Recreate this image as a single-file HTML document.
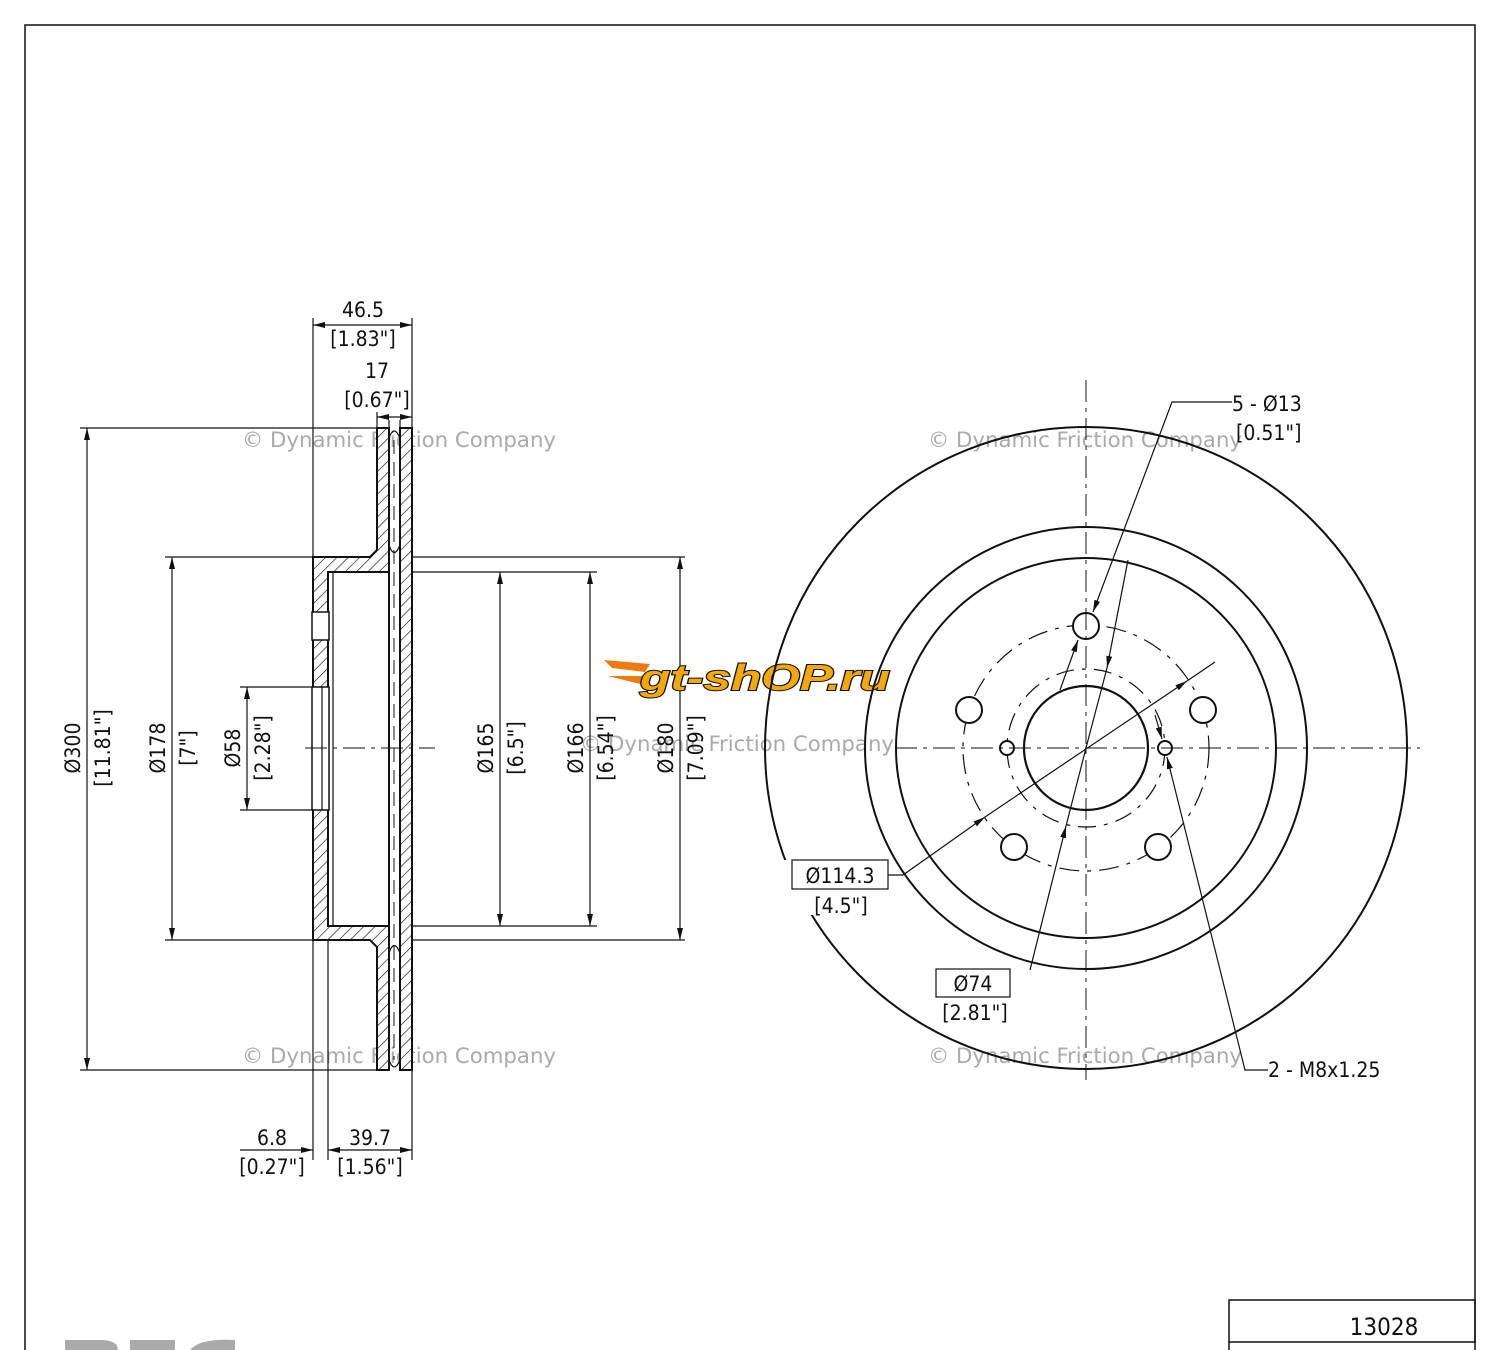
<!DOCTYPE html>
<html><head><meta charset="utf-8"><style>
html,body{margin:0;padding:0;background:#fff;}
svg{display:block;}
text{font-family:"DejaVu Sans Condensed","Liberation Sans Narrow","Liberation Sans",sans-serif;fill:#111;}
.wm{fill:#aaa;font-size:21px;}
</style></head><body>
<svg width="1500" height="1350" viewBox="0 0 1500 1350" xmlns="http://www.w3.org/2000/svg">
<defs>
<pattern id="h" patternUnits="userSpaceOnUse" width="8" height="8" patternTransform="rotate(45)">
<rect width="8" height="8" fill="#fff"/><line x1="0" y1="0" x2="0" y2="8" stroke="#111" stroke-width="1.3"/>
</pattern>
<marker id="a" markerWidth="12" markerHeight="8" refX="12" refY="4" orient="auto" markerUnits="userSpaceOnUse"><path d="M0,1 L12,4 L0,7 Z" fill="#111"/></marker>
<marker id="as" markerWidth="12" markerHeight="8" refX="0" refY="4" orient="auto" markerUnits="userSpaceOnUse"><path d="M12,1 L0,4 L12,7 Z" fill="#111"/></marker>
</defs>
<rect x="25" y="25" width="1450" height="1340" fill="none" stroke="#111" stroke-width="1.5"/>

<!-- watermarks -->
<text class="wm" x="242" y="447" textLength="314" lengthAdjust="spacingAndGlyphs">© Dynamic Friction Company</text>
<text class="wm" x="928" y="447" textLength="314" lengthAdjust="spacingAndGlyphs">© Dynamic Friction Company</text>
<text class="wm" x="580" y="751" textLength="314" lengthAdjust="spacingAndGlyphs">© Dynamic Friction Company</text>
<text class="wm" x="242" y="1063" textLength="314" lengthAdjust="spacingAndGlyphs">© Dynamic Friction Company</text>
<text class="wm" x="928" y="1063" textLength="314" lengthAdjust="spacingAndGlyphs">© Dynamic Friction Company</text>

<g stroke="#111" fill="none" stroke-width="1.2">
<line x1="80" y1="428" x2="377" y2="428"/>
<line x1="80" y1="1070" x2="377" y2="1070"/>
<line x1="165" y1="557" x2="313" y2="557"/>
<line x1="165" y1="940" x2="313" y2="940"/>
<line x1="240" y1="687" x2="313" y2="687"/>
<line x1="240" y1="810" x2="313" y2="810"/>
<line x1="412" y1="572" x2="505" y2="572"/>
<line x1="412" y1="926" x2="505" y2="926"/>
<line x1="505" y1="572" x2="597" y2="572"/>
<line x1="505" y1="926" x2="597" y2="926"/>
<line x1="412" y1="557" x2="685" y2="557"/>
<line x1="412" y1="940" x2="685" y2="940"/>
<line x1="313" y1="318" x2="313" y2="1160"/>
<line x1="328" y1="572" x2="328" y2="1160"/>
<line x1="412" y1="318" x2="412" y2="1160"/>
<line x1="377" y1="412" x2="377" y2="428"/>
<line x1="389" y1="420" x2="389" y2="1070"/>
<line x1="400" y1="420" x2="400" y2="1070"/>
<line x1="333" y1="572" x2="333" y2="926"/>
<line x1="87" y1="428" x2="87" y2="1070" marker-start="url(#as)" marker-end="url(#a)"/>
<line x1="172" y1="557" x2="172" y2="940" marker-start="url(#as)" marker-end="url(#a)"/>
<line x1="247" y1="687" x2="247" y2="810" marker-start="url(#as)" marker-end="url(#a)"/>
<line x1="500" y1="572" x2="500" y2="926" marker-start="url(#as)" marker-end="url(#a)"/>
<line x1="590" y1="572" x2="590" y2="926" marker-start="url(#as)" marker-end="url(#a)"/>
<line x1="680" y1="557" x2="680" y2="940" marker-start="url(#as)" marker-end="url(#a)"/>
<line x1="313" y1="325" x2="412" y2="325" marker-start="url(#as)" marker-end="url(#a)"/>
<line x1="377" y1="417" x2="412" y2="417" marker-start="url(#as)" marker-end="url(#a)"/>
<line x1="240" y1="1150" x2="313" y2="1150" marker-end="url(#a)"/>
<line x1="328" y1="1150" x2="412" y2="1150" marker-start="url(#as)" marker-end="url(#a)"/>
</g>
<path d="M377,428 L389,428 L389,1070 L377,1070 L377,947 L370,940 L313,940 L313,557 L370,557 L377,550 Z M328,572 L389,572 L389,926 L328,926 Z" fill="url(#h)" fill-rule="evenodd" stroke="#111" stroke-width="2"/>
<rect x="400" y="428" width="12" height="642" fill="url(#h)" stroke="#111" stroke-width="2"/>
<rect x="312" y="612" width="17" height="28" fill="#fff" stroke="#111" stroke-width="1.5"/>
<rect x="312" y="687" width="17" height="123" fill="#fff" stroke="#111" stroke-width="1.5"/>
<line x1="322" y1="687" x2="322" y2="810" stroke="#111" stroke-width="1.2"/>
<line x1="394" y1="440" x2="394" y2="1060" stroke="#111" stroke-width="1" stroke-dasharray="14,8"/>
<path d="M389,545 Q394,560 400,545 M389,953 Q394,938 400,953 M389,438 Q394,424 400,438 M389,1060 Q394,1074 400,1060" stroke="#111" fill="none" stroke-width="1.2"/>
<line x1="305" y1="748" x2="435" y2="748" stroke="#111" stroke-width="1" stroke-dasharray="22,6,4,6"/>

<g font-size="21">
<text x="363" y="317" text-anchor="middle">46.5</text>
<text x="363" y="346" text-anchor="middle">[1.83"]</text>
<text x="377" y="378" text-anchor="middle">17</text>
<text x="377" y="407" text-anchor="middle">[0.67"]</text>
<text x="272" y="1145" text-anchor="middle">6.8</text>
<text x="272" y="1174" text-anchor="middle">[0.27"]</text>
<text x="370" y="1145" text-anchor="middle">39.7</text>
<text x="370" y="1174" text-anchor="middle">[1.56"]</text>
<text transform="translate(80,748) rotate(-90)" text-anchor="middle">Ø300</text>
<text transform="translate(110,748) rotate(-90)" text-anchor="middle">[11.81"]</text>
<text transform="translate(165,748) rotate(-90)" text-anchor="middle">Ø178</text>
<text transform="translate(195,748) rotate(-90)" text-anchor="middle">[7"]</text>
<text transform="translate(240,748) rotate(-90)" text-anchor="middle">Ø58</text>
<text transform="translate(270,748) rotate(-90)" text-anchor="middle">[2.28"]</text>
<text transform="translate(493,748) rotate(-90)" text-anchor="middle">Ø165</text>
<text transform="translate(523,748) rotate(-90)" text-anchor="middle">[6.5"]</text>
<text transform="translate(583,748) rotate(-90)" text-anchor="middle">Ø166</text>
<text transform="translate(613,748) rotate(-90)" text-anchor="middle">[6.54"]</text>
<text transform="translate(673,748) rotate(-90)" text-anchor="middle">Ø180</text>
<text transform="translate(703,748) rotate(-90)" text-anchor="middle">[7.09"]</text>
</g>

<g>
<path d="M604,660 L650,664 L645,672 L612,668 Z M608,676 L645,676 L640,684 Z" fill="#f07a10"/>
<text x="640" y="690" font-size="36" font-weight="bold" font-style="italic" style="fill:#f5a800;stroke:#111;stroke-width:2;paint-order:stroke;font-family:'Liberation Sans',sans-serif" textLength="250" lengthAdjust="spacingAndGlyphs">gt-shOP.ru</text>
</g>

<g stroke="#111" fill="none">
<circle cx="1086" cy="748" r="321" stroke-width="2"/>
<circle cx="1086" cy="748" r="221" stroke-width="2"/>
<circle cx="1086" cy="748" r="190" stroke-width="2"/>
<circle cx="1086" cy="748" r="62" stroke-width="2.2"/>
<circle cx="1086" cy="748" r="123" stroke-width="1.2" stroke-dasharray="20,8,4,8"/>
<circle cx="1086" cy="748" r="79" stroke-width="1.2" stroke-dasharray="18,8,4,8"/>
<g stroke-width="2" fill="#fff">
<circle cx="1086" cy="626" r="13"/><circle cx="969" cy="710" r="13"/><circle cx="1203" cy="710" r="13"/>
<circle cx="1014" cy="847" r="13"/><circle cx="1158" cy="847" r="13"/>
<circle cx="1007" cy="748" r="7"/><circle cx="1165" cy="748" r="7"/>
</g>
<line x1="1086" y1="380" x2="1086" y2="1080" stroke-width="1" stroke-dasharray="22,6,4,6"/>
<line x1="895" y1="748" x2="1420" y2="748" stroke-width="1" stroke-dasharray="22,6,4,6"/>
<rect x="778" y="860" width="40" height="55" fill="#fff" stroke="none"/>
<g stroke-width="1.2">
<polyline points="1232,402 1172,402 1093,612" marker-end="url(#a)"/>
<line x1="1060" y1="690" x2="1078" y2="640" marker-end="url(#a)"/>
<line x1="1128" y1="560" x2="1107" y2="668" marker-end="url(#a)"/>
<line x1="1030" y1="970" x2="1066" y2="826" marker-end="url(#a)"/>
<line x1="1086" y1="748" x2="1066" y2="826"/>
<line x1="1086" y1="748" x2="1107" y2="668"/>
<polyline points="888,875 903,875 985,817" marker-end="url(#a)"/>
<line x1="985" y1="817" x2="1187" y2="681" marker-end="url(#a)"/>
<line x1="1187" y1="681" x2="1215" y2="662"/>
<polyline points="1268,1070 1245,1070 1167,757" marker-end="url(#a)"/>
<line x1="1155" y1="715" x2="1162" y2="739" marker-end="url(#a)"/>
</g>
<rect x="792" y="860" width="96" height="29" fill="#fff" stroke-width="1.2"/>
<rect x="936" y="969" width="74" height="28" fill="#fff" stroke-width="1.2"/>
</g>
<g font-size="21">
<text x="1232" y="411">5 - Ø13</text>
<text x="1236" y="440">[0.51"]</text>
<text x="840" y="883" text-anchor="middle">Ø114.3</text>
<text x="841" y="913" text-anchor="middle">[4.5"]</text>
<text x="973" y="991" text-anchor="middle">Ø74</text>
<text x="975" y="1020" text-anchor="middle">[2.81"]</text>
<text x="1268" y="1077">2 - M8x1.25</text>
</g>

<rect x="1229" y="1300" width="246" height="42" fill="none" stroke="#111" stroke-width="1.5"/>
<line x1="1229" y1="1342" x2="1229" y2="1350" stroke="#111" stroke-width="1.5"/>
<text x="1384" y="1335" font-size="24" text-anchor="middle">13028</text>
<path d="M65,1350 L65,1340 L100,1340 Q118,1340 118,1350 Z M130,1350 L130,1340 L175,1340 L175,1350 Z M190,1350 Q200,1338 235,1340 L235,1350 Z" fill="#aaa"/>
</svg>
</body></html>
